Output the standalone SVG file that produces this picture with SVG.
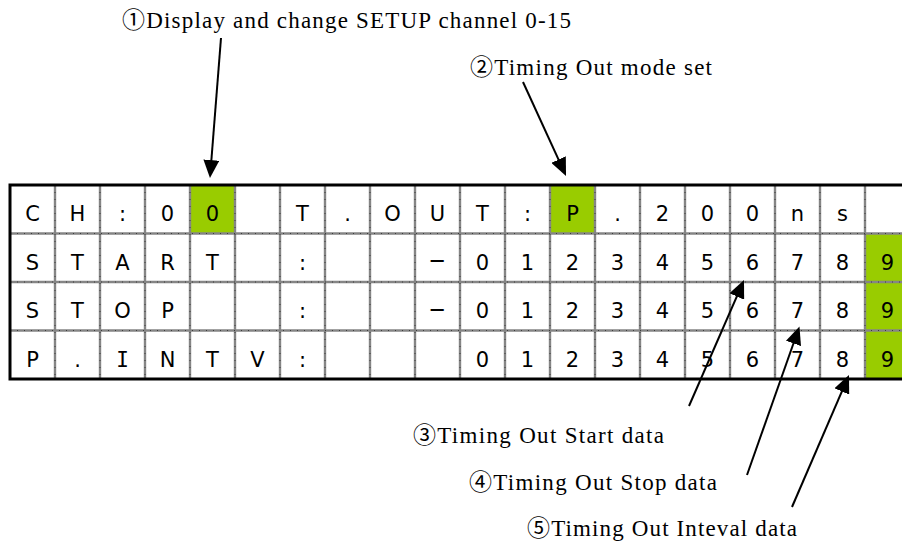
<svg xmlns="http://www.w3.org/2000/svg" width="902" height="544" viewBox="0 0 902 544">
<style>
.cell{font-family:"DejaVu Sans","Liberation Sans",sans-serif;font-size:21px;fill:#000;text-anchor:middle}
.mono{font-family:"DejaVu Sans Mono","Liberation Mono",monospace}
.dash{font-family:"Liberation Sans",sans-serif;font-size:27px}
.note{font-family:"Liberation Serif","Noto Sans CJK JP",serif;font-size:23px;fill:#000}
.grid{stroke:#858585;stroke-width:2.4;fill:none}
.tick{stroke:#2a2a2a;stroke-width:0.8;stroke-dasharray:1 6;fill:none}
.border{stroke:#000;stroke-width:3;fill:none}
.hl{fill:#99CC00}
.arrow{stroke:#000;stroke-width:2;fill:none;marker-end:url(#ah)}
</style>
<defs>
<marker id="ah" viewBox="0 0 18 16" refX="10" refY="8" markerWidth="18" markerHeight="16" markerUnits="userSpaceOnUse" orient="auto">
<path d="M0,0 L18,8 L0,16 Z" fill="#000"/>
</marker>
</defs>
<rect width="902" height="544" fill="#fff"/>
<g id="display">
<rect class="hl" x="190" y="185" width="45" height="48.5"/>
<rect class="hl" x="550" y="185" width="45" height="48.5"/>
<rect class="hl" x="865" y="233.5" width="37" height="48.5"/>
<rect class="hl" x="865" y="282" width="37" height="48.5"/>
<rect class="hl" x="865" y="330.5" width="37" height="48.5"/>
<path class="grid" d="M55,185V379M100,185V379M145,185V379M190,185V379M235,185V379M280,185V379M325,185V379M370,185V379M415,185V379M460,185V379M505,185V379M550,185V379M595,185V379M640,185V379M685,185V379M730,185V379M775,185V379M820,185V379M865,185V379M10,233.5H902M10,282H902M10,330.5H902"/>
<path class="tick" d="M55,185V379M100,185V379M145,185V379M190,185V379M235,185V379M280,185V379M325,185V379M370,185V379M415,185V379M460,185V379M505,185V379M550,185V379M595,185V379M640,185V379M685,185V379M730,185V379M775,185V379M820,185V379M865,185V379M10,233.5H902M10,282H902M10,330.5H902"/>
<path class="border" d="M902,185H10V379H902"/>
<g class="cell">
<text x="32.5" y="221">C</text><text x="77.5" y="221">H</text><text x="122.5" y="221">:</text><text x="167.5" y="221">0</text><text x="212.5" y="221">0</text>
<text x="302.5" y="221">T</text><text x="347.5" y="221">.</text><text x="392.5" y="221">O</text><text x="437.5" y="221">U</text><text x="482.5" y="221">T</text><text x="527.5" y="221">:</text><text x="572.5" y="221">P</text><text x="617.5" y="221">.</text><text x="662.5" y="221">2</text><text x="707.5" y="221">0</text><text x="752.5" y="221">0</text><text x="797.5" y="221">n</text><text x="842.5" y="221">s</text>

<text x="32.5" y="269.5">S</text><text x="77.5" y="269.5">T</text><text x="122.5" y="269.5">A</text><text x="167.5" y="269.5">R</text><text x="212.5" y="269.5">T</text><text x="302.5" y="269.5">:</text><text class="dash" x="437.5" y="270">−</text>
<text x="482.5" y="269.5">0</text><text x="527.5" y="269.5">1</text><text x="572.5" y="269.5">2</text><text x="617.5" y="269.5">3</text><text x="662.5" y="269.5">4</text><text x="707.5" y="269.5">5</text><text x="752.5" y="269.5">6</text><text x="797.5" y="269.5">7</text><text x="842.5" y="269.5">8</text><text x="887.5" y="269.5">9</text>

<text x="32.5" y="318">S</text><text x="77.5" y="318">T</text><text x="122.5" y="318">O</text><text x="167.5" y="318">P</text><text x="302.5" y="318">:</text><text class="dash" x="437.5" y="318.5">−</text>
<text x="482.5" y="318">0</text><text x="527.5" y="318">1</text><text x="572.5" y="318">2</text><text x="617.5" y="318">3</text><text x="662.5" y="318">4</text><text x="707.5" y="318">5</text><text x="752.5" y="318">6</text><text x="797.5" y="318">7</text><text x="842.5" y="318">8</text><text x="887.5" y="318">9</text>

<text x="32.5" y="366.5">P</text><text x="77.5" y="366.5">.</text><text class="mono" x="122.5" y="366.5">I</text><text x="167.5" y="366.5">N</text><text x="212.5" y="366.5">T</text><text x="257.5" y="366.5">V</text><text x="302.5" y="366.5">:</text>
<text x="482.5" y="366.5">0</text><text x="527.5" y="366.5">1</text><text x="572.5" y="366.5">2</text><text x="617.5" y="366.5">3</text><text x="662.5" y="366.5">4</text><text x="707.5" y="366.5">5</text><text x="752.5" y="366.5">6</text><text x="797.5" y="366.5">7</text><text x="842.5" y="366.5">8</text><text x="887.5" y="366.5">9</text>
</g>
</g>
<g id="note1"><text class="note" x="122" y="28" textLength="449" lengthAdjust="spacing">①Display and change SETUP channel 0-15</text></g>
<g id="note2"><text class="note" x="470" y="75" textLength="242" lengthAdjust="spacing">②Timing Out mode set</text></g>
<g id="note3"><text class="note" x="413" y="443" textLength="251" lengthAdjust="spacing">③Timing Out Start data</text></g>
<g id="note4"><text class="note" x="469" y="490" textLength="248" lengthAdjust="spacing">④Timing Out Stop data</text></g>
<g id="note5"><text class="note" x="527" y="536" textLength="270" lengthAdjust="spacing">⑤Timing Out Inteval data</text></g>
<g id="connectors">
<line class="arrow" x1="221" y1="38" x2="210.6" y2="170"/>
<line class="arrow" x1="523" y1="82" x2="562.7" y2="168.7"/>
<line class="arrow" x1="689" y1="406" x2="740.8" y2="287.3"/>
<line class="arrow" x1="747" y1="475" x2="796.8" y2="334"/>
<line class="arrow" x1="792" y1="507" x2="845.8" y2="382.3"/>
</g>
</svg>
